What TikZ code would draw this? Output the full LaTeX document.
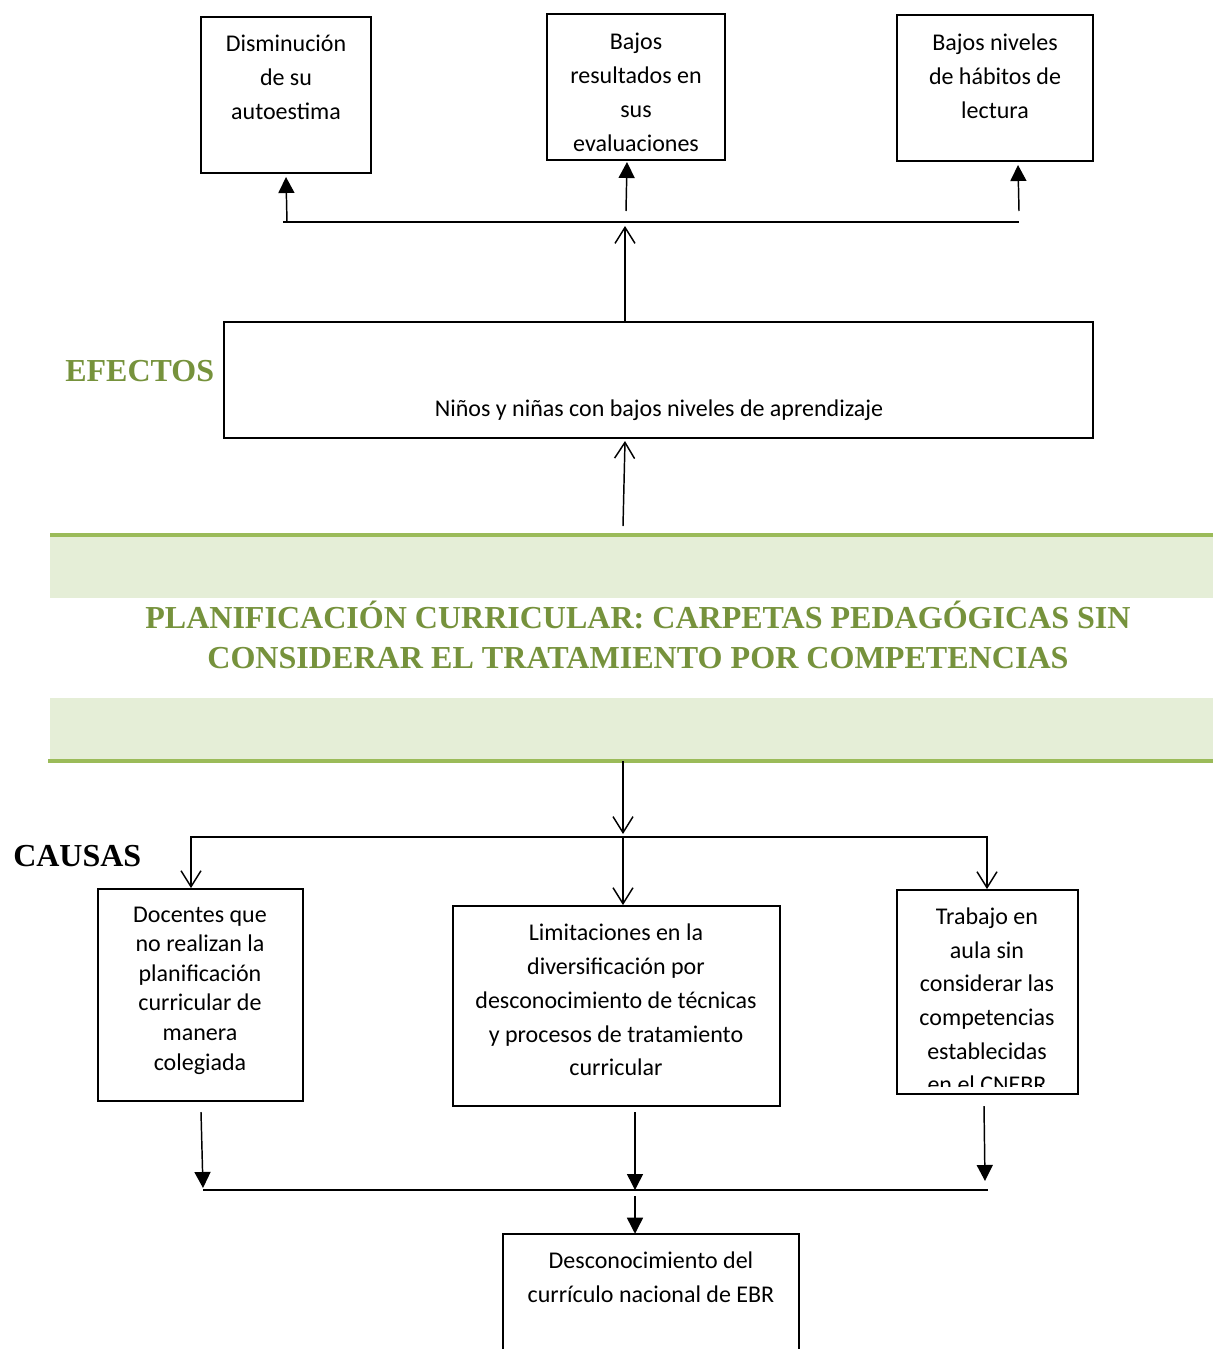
\documentclass[tikz,border=0pt]{standalone}
\usepackage{fontspec}
\usepackage{graphicx}
\setmainfont{Carlito}
\newfontfamily\serifbold{Liberation Serif}[BoldFont={Liberation Serif Bold}]
\usetikzlibrary{arrows.meta,fit}
\definecolor{gtext}{HTML}{76923C}
\definecolor{gline}{HTML}{9BBB59}
\definecolor{gfill}{HTML}{E5EED7}
\tikzset{
  box/.style={draw, line width=1.4pt, inner sep=0pt},
  hid/.style={inner sep=0pt},
  txt/.style={inner sep=0pt, anchor=north, align=center, font=\fontsize{18}{25.5}\selectfont},
  txtA/.style={inner sep=0pt, anchor=north, align=center, font=\fontsize{18}{22.2}\selectfont},
  conn/.style={line width=1.1pt},
  fa/.style={conn, -{Triangle[length=12pt,width=12pt]}},
  oa/.style={conn, -{Straight Barb[length=12pt,width=15pt]}},
  ttl/.style={inner sep=0pt, anchor=base, text=gtext, font=\serifbold\bfseries\fontsize{24}{28}\selectfont},
  lbl/.style={inner sep=0pt, anchor=base west, font=\serifbold\bfseries\fontsize{24}{28}\selectfont},
  bandline/.style={gline, line width=2.3pt},
}
\begin{document}
\begin{tikzpicture}[x=0.75pt,y=-0.75pt]
\useasboundingbox (0,0) rectangle (1213,1349);

% ---------- effect boxes ----------
\node[box, fit={(201,17) (371,173)}] (b1) {};
\node[txt] (t1) at (286,27) {\strut Disminución\\ de su\\ autoestima};
\node[box, fit={(547,14) (725,160)}] (b2) {};
\node[txt] (t2) at (636,25) {\strut Bajos\\ resultados en\\ sus\\ evaluaciones};
\node[box, fit={(897,15) (1093,161)}] (b3) {};
\node[txt] (t3) at (995,26) {\strut Bajos niveles\\ de hábitos de\\ lectura};

% horizontal line and arrows up
\coordinate (hL) at (283,222);
\coordinate (hR) at (1019,222);
\draw[conn] (hL) -- (hR);
\coordinate (a1s) at (287,222); \coordinate (a1e) at (286,177);
\coordinate (a2s) at (626,211); \coordinate (a2e) at (627,162);
\coordinate (a3s) at (1019,211); \coordinate (a3e) at (1018,165);
\draw[fa] (a1s) -- (a1e);
\draw[fa] (a2s) -- (a2e);
\draw[fa] (a3s) -- (a3e);

% main effect box
\node[box, fit={(224,322) (1093,438)}] (ef) {};
\node[txt] (eft) at (659,392) {\strut Niños y niñas con bajos niveles de aprendizaje};
\coordinate (e1s) at (625,321); \coordinate (e1e) at (625,226);
\draw[oa] (e1s) -- (e1e);
\node[lbl, text=gtext] (efl) at (65,381) {EFECTOS};

% ---------- central problem band ----------
\fill[gfill] (50,537) rectangle (1213,598);
\fill[gfill] (50,698) rectangle (1213,760);
\draw[bandline] (50,535) -- (1213,535);
\draw[bandline] (48,761) -- (1213,761);
\node[ttl] (pl1) at (638,628) {\resizebox{739pt}{\height}{PLANIFICACIÓN CURRICULAR: CARPETAS PEDAGÓGICAS SIN}};
\node[ttl] (pl2) at (638,668) {\resizebox{646pt}{\height}{CONSIDERAR EL TRATAMIENTO POR COMPETENCIAS}};
\coordinate (p1s) at (623,526); \coordinate (p1e) at (625,441);
\draw[oa] (p1s) -- (p1e);

% ---------- causes ----------
\coordinate (p2s) at (623,761); \coordinate (p2e) at (623,834);
\draw[oa] (p2s) -- (p2e);
\coordinate (cL) at (191,837); \coordinate (cM) at (623,837); \coordinate (cR) at (987,837);
\draw[conn] (191,887) -- (cL) -- (cR) -- (987,887);
\node[lbl] (cal) at (13,866) {CAUSAS};

\node[box, fit={(98,889) (303,1101)}] (ca) {};
\node[txtA] (cat) at (200,901) {\strut Docentes que\\ no realizan la\\ planificación\\ curricular de\\ manera\\ colegiada};
\node[box, fit={(453,906) (780,1106)}] (cb) {};
\node[txt, font=\fontsize{18}{25.3}\selectfont] (cbt) at (616,917) {\strut Limitaciones en la\\ diversificación por\\ desconocimiento de técnicas\\ y procesos de tratamiento\\ curricular};
\node[box, fit={(897,890) (1078,1094)}] (cc) {};
\begin{scope}
\clip (897,890) rectangle (1078,1086);
\node[txt, font=\fontsize{18}{25.2}\selectfont] (cct) at (987,901) {\strut Trabajo en\\ aula sin\\ considerar las\\ competencias\\ establecidas\\ en el CNEBR};
\end{scope}

\draw[oa] (cL) -- (ca.north -| cL);
\draw[oa] (cM) -- (cb.north -| cM);
\draw[oa] (cR) -- (cc.north -| cR);

% arrows down to bottom line
\coordinate (d1s) at (201,1112); \coordinate (d1e) at (203,1188);
\coordinate (d2s) at (635,1112); \coordinate (d2e) at (635,1190);
\coordinate (d3s) at (984,1106); \coordinate (d3e) at (985,1181);
\draw[fa] (d1s) -- (d1e);
\draw[fa] (d2s) -- (d2e);
\draw[fa] (d3s) -- (d3e);
\coordinate (bL) at (203,1190); \coordinate (bR) at (988,1190);
\draw[conn] (bL) -- (bR);

% bottom box (open at the bottom)
\node[hid, fit={(503,1234) (799,1349)}] (bot) {};
\draw[line width=1.4pt] (bot.south west) -- (bot.north west) -- (bot.north east) -- (bot.south east);
\node[txt] (bott) at (651,1244) {\strut Desconocimiento del\\ currículo nacional de EBR};
\coordinate (f1s) at (635,1196);
\draw[fa] (f1s) -- (bot.north -| f1s);
\end{tikzpicture}
\end{document}
